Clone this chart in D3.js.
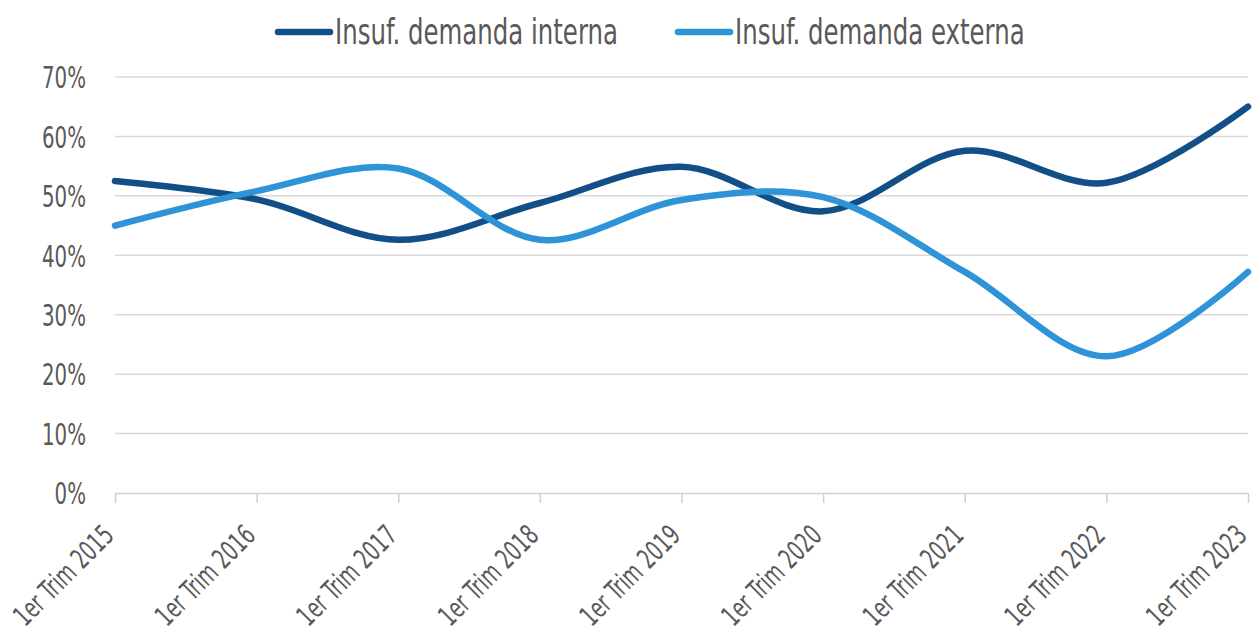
<!DOCTYPE html>
<html>
<head>
<meta charset="utf-8">
<script src="https://cdn.jsdelivr.net/npm/d3@7"></script>
<style>
  html, body { margin: 0; padding: 0; background: #fff; }
  svg text { font-family: "DejaVu Sans Condensed", "Liberation Sans Narrow", "Roboto", sans-serif; fill: #595959; }
</style>
</head>
<body>
<div id="chart"></div>
<script>
const categories = ['1er Trim 2015', '1er Trim 2016', '1er Trim 2017', '1er Trim 2018', '1er Trim 2019',
  '1er Trim 2020', '1er Trim 2021', '1er Trim 2022', '1er Trim 2023'];
const interna = [0.525, 0.494, 0.426, 0.488, 0.549, 0.474, 0.576, 0.522, 0.650];
const externa = [0.450, 0.508, 0.546, 0.426, 0.493, 0.498, 0.372, 0.230, 0.372];
const yTicks = [0, 0.1, 0.2, 0.3, 0.4, 0.5, 0.6, 0.7];
const seriesNames = ['Insuf. demanda interna', 'Insuf. demanda externa'];
const seriesColors = ['#124f87', '#2e93d7'];

const width = 1258;
const height = 637;
const margin = { top: 77, right: 10, bottom: 144, left: 115 };

// the reference font is a narrow one: squeeze text horizontally so that
// refNode ends up refWidth wide (prefix is the transform applied before the scale)
const squeeze = (sel, refNode, refWidth, prefix) => {
  const factor = refWidth / refNode.getComputedTextLength();
  sel.attr('transform', `${prefix} scale(${factor},1)`);
};

const svg = d3.select('#chart')
  .append('svg')
  .attr('width', width)
  .attr('height', height);

const x = d3.scalePoint()
  .domain(categories)
  .range([margin.left, width - margin.right]);

const y = d3.scaleLinear()
  .domain([0, 0.7])
  .range([height - margin.bottom, margin.top]);

// gridlines
svg.append('g')
  .selectAll('line')
  .data(yTicks.filter(d => d > 0))
  .enter()
  .append('line')
  .attr('x1', margin.left)
  .attr('x2', width - margin.right)
  .attr('y1', d => y(d))
  .attr('y2', d => y(d))
  .style('stroke', '#d9d9d9')
  .style('stroke-width', 1.5);

// y axis labels
const yAxis = svg.append('g')
  .attr('transform', `translate(${margin.left - 29},0)`)
  .call(d3.axisLeft(y).tickValues(yTicks).tickFormat(d3.format('.0%')).tickSize(0).tickPadding(0));
yAxis.select('.domain').remove();
const yLabels = yAxis.selectAll('text')
  .style('font-size', '30px')
  .attr('x', 0)
  .attr('dy', '0.36em');
squeeze(yLabels, yLabels.nodes()[yLabels.size() - 1], 44, '');

// x axis
const xAxis = svg.append('g')
  .attr('transform', `translate(0,${height - margin.bottom})`)
  .call(d3.axisBottom(x).tickSize(10).tickPadding(0).tickSizeOuter(0));
xAxis.select('.domain').style('stroke', '#d0d0d0').style('stroke-width', 1.5);
xAxis.selectAll('.tick line').style('stroke', '#d0d0d0').style('stroke-width', 1.5);
const xLabels = xAxis.selectAll('text')
  .style('font-size', '28px')
  .attr('y', 0)
  .attr('dy', 0)
  .attr('text-anchor', 'end');
squeeze(xLabels, xLabels.node(), 128, 'translate(0,44) rotate(-45)');

// lines
const line = d3.line()
  .x((d, i) => x(categories[i]))
  .y(d => y(d))
  .curve(d3.curveCatmullRom.alpha(0.5));

[interna, externa].forEach((values, i) => {
  svg.append('path')
    .datum(values)
    .attr('d', line)
    .style('fill', 'none')
    .style('stroke', seriesColors[i])
    .style('stroke-width', 6.5)
    .style('stroke-linecap', 'round');
});

// legend
const legendX = [278, 678];
const legend = svg.append('g')
  .selectAll('g')
  .data(seriesNames)
  .enter()
  .append('g')
  .attr('transform', (d, i) => `translate(${legendX[i]},32)`);
legend.append('line')
  .attr('x1', 0).attr('x2', 52)
  .style('stroke', (d, i) => seriesColors[i])
  .style('stroke-width', 6.5)
  .style('stroke-linecap', 'round');
const legendText = legend.append('text')
  .style('font-size', '36px')
  .text(d => d);
squeeze(legendText, legendText.node(), 283, 'translate(57,11.5)');
</script>
</body>
</html>
